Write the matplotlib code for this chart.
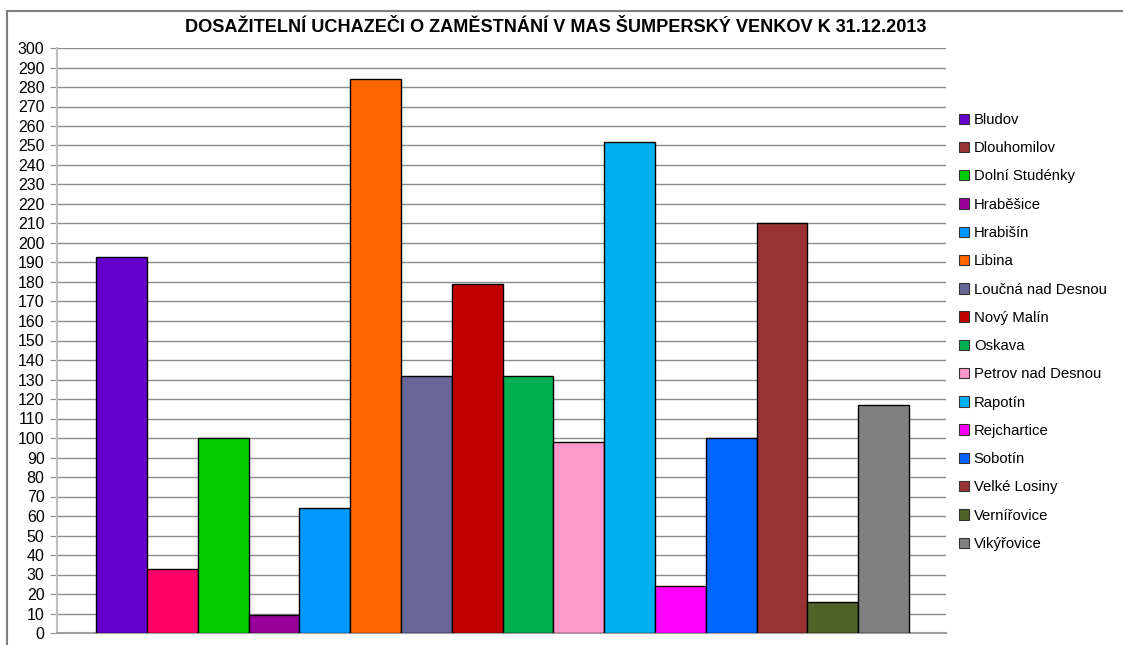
import matplotlib
matplotlib.use("Agg")
import matplotlib.pyplot as plt
from matplotlib.patches import Patch, Rectangle

plt.rcParams['font.family'] = ['Liberation Sans', 'DejaVu Sans']

title = "DOSAŽITELNÍ UCHAZEČI O ZAMĚSTNÁNÍ V MAS ŠUMPERSKÝ VENKOV K 31.12.2013"
obce = ["Bludov", "Dlouhomilov", "Dolní Studénky", "Hraběšice", "Hrabišín", "Libina",
        "Loučná nad Desnou", "Nový Malín", "Oskava", "Petrov nad Desnou", "Rapotín",
        "Rejchartice", "Sobotín", "Velké Losiny", "Vernířovice", "Vikýřovice"]
hodnoty = [193, 33, 100, 9, 64, 284, 132, 179, 132, 98, 252, 24, 100, 210, 16, 117]
barvy_sloupcu = ["#6600CC", "#FF0066", "#00CC00", "#990099", "#0099FF", "#FF6600",
                 "#666699", "#C00000", "#00B050", "#FF99CC", "#00B0F0", "#FF00FF",
                 "#0066FF", "#993333", "#4F6228", "#808080"]
barvy_legendy = ["#6600CC", "#993333", "#00CC00", "#990099", "#0099FF", "#FF6600",
                 "#666699", "#C00000", "#00B050", "#FF99CC", "#00B0F0", "#FF00FF",
                 "#0066FF", "#993333", "#4F6228", "#808080"]
y_ticks = list(range(0, 301, 10))

W, H = 1123, 645
fig = plt.figure(figsize=(W / 100, H / 100), dpi=100)
fig.patch.set_facecolor("white")

# outer chart border
fig.patches.append(Rectangle((7 / W, -0.05), 1.2, (H - 11) / H + 0.05,
                             transform=fig.transFigure, fill=False,
                             edgecolor="#808080", linewidth=1.5))

ax = fig.add_axes([57 / W, (H - 633) / H, (946 - 57) / W, (633 - 48) / H])
x = list(range(len(obce)))
ax.bar(x, hodnoty, width=1.0, color=barvy_sloupcu, edgecolor="black",
       linewidth=1.0, zorder=3)

ax.set_xlim(-1.27, len(obce) - 1 + 1.23)
ax.set_ylim(0, 300)
ax.set_yticks(y_ticks)
ax.set_yticklabels([str(v) for v in y_ticks], fontsize=11.5)
ax.set_xticks([])
ax.grid(axis="y", color="#8c8c8c", linewidth=1.0, zorder=0)
for s in ["top", "right"]:
    ax.spines[s].set_visible(False)
ax.spines["left"].set_color("#c0c0c0")
ax.spines["left"].set_linewidth(1.5)
ax.spines["bottom"].set_color("#a0a0a0")
ax.spines["bottom"].set_linewidth(1.5)
ax.tick_params(axis="y", length=5, color="#8c8c8c", pad=4)

fig.text(556 / W, (H - 28) / H, title, ha="center", va="center",
         fontsize=13.1, fontweight="bold")

handles = [Patch(facecolor=c, edgecolor="#333333", linewidth=0.8) for c in barvy_legendy]
leg = fig.legend(handles, obce, loc="upper left",
                 bbox_to_anchor=(953 / W, (H - 107) / H),
                 frameon=False, fontsize=10.7, handlelength=0.7, handleheight=0.7,
                 handletextpad=0.3, labelspacing=0.96, borderaxespad=0)

fig.savefig("out.png", dpi=100, facecolor="white")
